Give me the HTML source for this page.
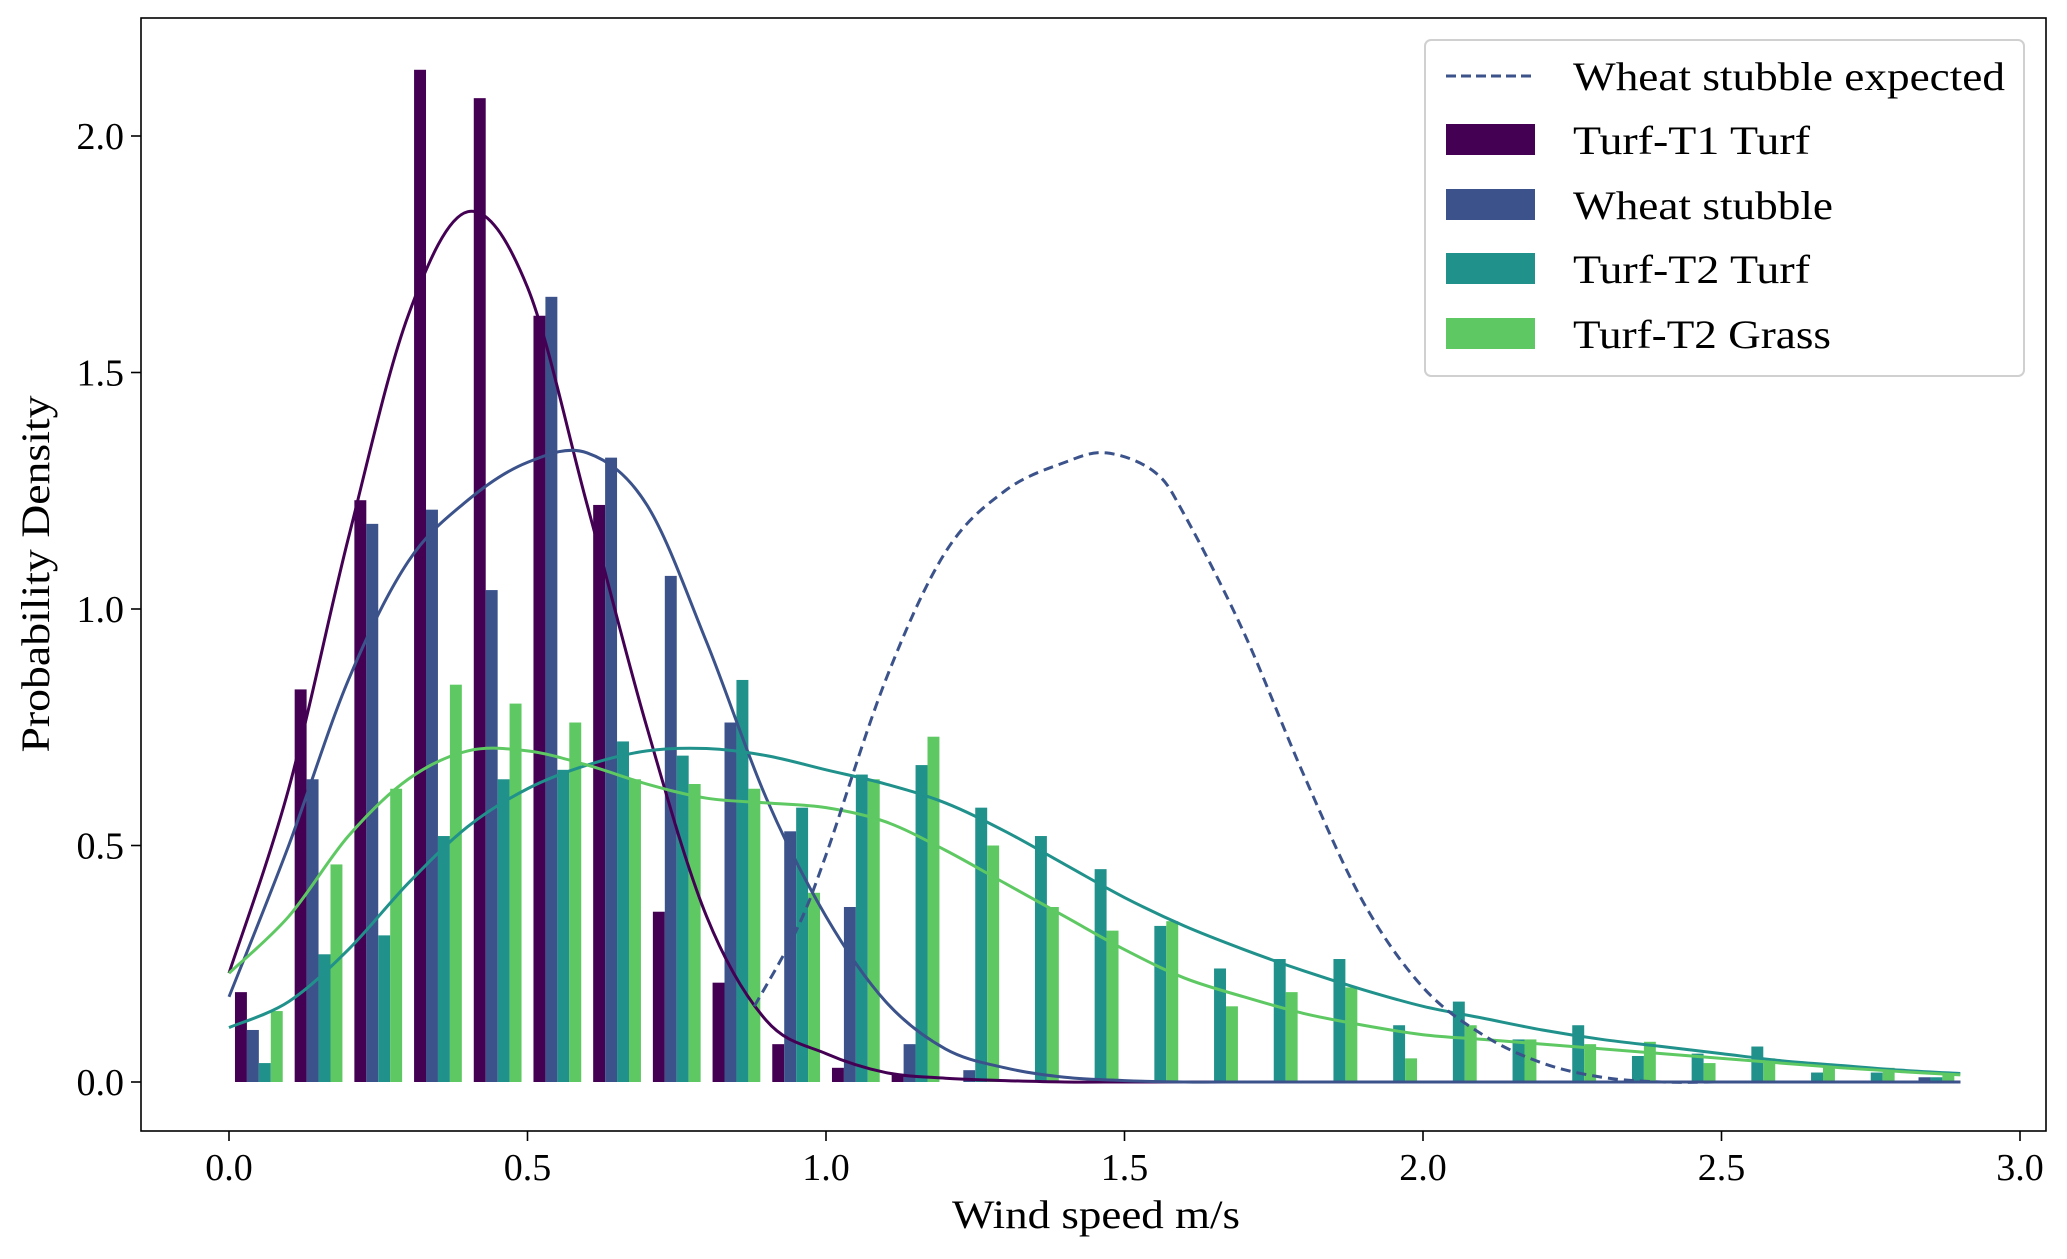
<!DOCTYPE html>
<html><head><meta charset="utf-8"><style>
html,body{margin:0;padding:0;background:#fff}
svg{display:block}
text{font-family:"Liberation Serif","DejaVu Serif",serif;fill:#000}
</style></head><body>
<svg id="chart" width="2067" height="1259" viewBox="0 0 2067 1259" xmlns="http://www.w3.org/2000/svg">
<rect x="0" y="0" width="2067" height="1259" fill="#fff"/>
<g id="bars"></g>
<g id="curves"></g>
<rect x="141" y="18" width="1905" height="1113" fill="none" stroke="#000" stroke-width="1.6"/>
<g id="xticks"></g>
<g id="yticks"></g>
<text x="1096" y="1228" font-size="40" text-anchor="middle" textLength="288" lengthAdjust="spacingAndGlyphs">Wind speed m/s</text>
<text transform="translate(49,574) rotate(-90)" font-size="40" text-anchor="middle" textLength="357" lengthAdjust="spacingAndGlyphs">Probability Density</text>
<g>
<rect x="1425" y="40" width="599" height="336" rx="6" fill="#fff" fill-opacity="0.85" stroke="#d0d0d0" stroke-width="2"/>
<line x1="1446" y1="76" x2="1535" y2="76" stroke="#3b528b" stroke-width="3" stroke-dasharray="10,5"/>
<text x="1573" y="90" font-size="40" textLength="432" lengthAdjust="spacingAndGlyphs">Wheat stubble expected</text>
<rect x="1446" y="124" width="89" height="31" fill="#440154"/>
<text x="1573" y="154" font-size="40" textLength="237" lengthAdjust="spacingAndGlyphs">Turf-T1 Turf</text>
<rect x="1446" y="189" width="89" height="31" fill="#3b528b"/>
<text x="1573" y="219" font-size="40" textLength="260" lengthAdjust="spacingAndGlyphs">Wheat stubble</text>
<rect x="1446" y="253" width="89" height="31" fill="#21918c"/>
<text x="1573" y="283" font-size="40" textLength="237" lengthAdjust="spacingAndGlyphs">Turf-T2 Turf</text>
<rect x="1446" y="318" width="89" height="31" fill="#5ec962"/>
<text x="1573" y="348" font-size="40" textLength="258" lengthAdjust="spacingAndGlyphs">Turf-T2 Grass</text>
</g>
</svg>
<script>
const binStarts = [0,0.1,0.2,0.3,0.4,0.5,0.6,0.7,0.8,0.9,1.0,1.1,1.2,1.3,1.4,1.5,1.6,1.7,1.8,1.9,2.0,2.1,2.2,2.3,2.4,2.5,2.6,2.7,2.8];
const t1Turf = [0.19,0.83,1.23,2.14,2.08,1.62,1.22,0.36,0.21,0.08,0.03,0.015,0,0,0,0,0,0,0,0,0,0,0,0,0,0,0,0,0];
const wheatStubble = [0.11,0.64,1.18,1.21,1.04,1.66,1.32,1.07,0.76,0.53,0.37,0.08,0.025,0,0,0,0,0,0,0,0,0,0,0,0,0,0,0,0.01];
const t2Turf = [0.04,0.27,0.31,0.52,0.64,0.66,0.72,0.69,0.85,0.58,0.65,0.67,0.58,0.52,0.45,0.33,0.24,0.26,0.26,0.12,0.17,0.09,0.12,0.055,0.06,0.075,0.02,0.02,0.01];
const t2Grass = [0.15,0.46,0.62,0.84,0.80,0.76,0.64,0.63,0.62,0.40,0.64,0.73,0.50,0.37,0.32,0.34,0.16,0.19,0.20,0.05,0.12,0.09,0.08,0.085,0.04,0.05,0.035,0.03,0.02];

const kdeX = [0,0.1,0.2,0.3,0.4,0.5,0.6,0.7,0.8,0.9,1.0,1.1,1.2,1.3,1.4,1.5,1.6,1.7,1.8,1.9,2.0,2.1,2.2,2.3,2.4,2.5,2.6,2.7,2.8,2.9];
const kdeT1 = [0.23,0.62,1.15,1.62,1.84,1.68,1.22,0.75,0.35,0.13,0.06,0.02,0.008,0.003,0,0,0,0,0,0,0,0,0,0,0,0,0,0,0,0];
const kdeWheat = [0.18,0.5,0.85,1.1,1.23,1.31,1.33,1.22,0.93,0.6,0.35,0.17,0.07,0.03,0.01,0.003,0,0,0,0,0,0,0,0,0,0,0,0,0,0];
const kdeT2Turf = [0.115,0.17,0.28,0.42,0.54,0.62,0.67,0.70,0.705,0.69,0.66,0.63,0.59,0.53,0.46,0.39,0.33,0.28,0.235,0.195,0.16,0.135,0.11,0.09,0.075,0.06,0.045,0.035,0.025,0.018];
const kdeT2Grass = [0.23,0.35,0.52,0.64,0.70,0.70,0.67,0.63,0.60,0.59,0.58,0.55,0.49,0.42,0.35,0.28,0.22,0.18,0.145,0.12,0.10,0.09,0.08,0.07,0.06,0.05,0.04,0.03,0.022,0.015];
const expX = [0.88,0.95,1.0,1.1,1.2,1.3,1.4,1.47,1.55,1.6,1.7,1.8,1.9,2.0,2.1,2.2,2.3,2.4,2.5,2.6,2.7,2.8,2.9];
const expY = [0.16,0.32,0.48,0.85,1.12,1.25,1.31,1.33,1.29,1.2,0.95,0.65,0.38,0.2,0.1,0.04,0.01,0,0,0,0,0,0];

const xTicks = [0,0.5,1.0,1.5,2.0,2.5,3.0];
const xTickLabels = ["0.0","0.5","1.0","1.5","2.0","2.5","3.0"];
const yTicks = [0,0.5,1.0,1.5,2.0];
const yTickLabels = ["0.0","0.5","1.0","1.5","2.0"];

const NS = "http://www.w3.org/2000/svg";
function sx(v){ return 229 + v*597; }
function sy(v){ return 1082 - v*473; }

const barsG = document.getElementById('bars');
const series = [t1Turf, wheatStubble, t2Turf, t2Grass];
const colors = ["#440154","#3b528b","#21918c","#5ec962"];
const seriesNames = ["t1-turf","wheat-stubble","t2-turf","t2-grass"];
for (let s=0; s<series.length; s++){
  for (let i=0; i<binStarts.length; i++){
    const v = series[s][i];
    if (v<=0) continue;
    const x0 = binStarts[i] + 0.01 + s*0.02;
    const r = document.createElementNS(NS,'rect');
    r.setAttribute('x', sx(x0));
    r.setAttribute('width', sx(x0+0.02)-sx(x0));
    r.setAttribute('y', sy(v));
    r.setAttribute('height', sy(0)-sy(v));
    r.setAttribute('fill', colors[s]);
    
    
    barsG.appendChild(r);
  }
}

function smoothPath(xs, ys){
  const p = xs.map((x,i)=>[sx(x), sy(ys[i])]);
  let d = "M"+p[0][0]+","+p[0][1];
  for (let i=0;i<p.length-1;i++){
    const p0=p[Math.max(0,i-1)], p1=p[i], p2=p[i+1], p3=p[Math.min(p.length-1,i+2)];
    const c1=[p1[0]+(p2[0]-p0[0])/6, p1[1]+(p2[1]-p0[1])/6];
    const c2=[p2[0]-(p3[0]-p1[0])/6, p2[1]-(p3[1]-p1[1])/6];
    d += " C"+c1[0]+","+c1[1]+" "+c2[0]+","+c2[1]+" "+p2[0]+","+p2[1];
  }
  return d;
}
const curvesG = document.getElementById('curves');
const curveDefs = [
  [kdeX,kdeT1,"#440154",null,"kde-t1-turf"],
  [kdeX,kdeWheat,"#3b528b",null,"kde-wheat-stubble"],
  [kdeX,kdeT2Turf,"#21918c",null,"kde-t2-turf"],
  [kdeX,kdeT2Grass,"#5ec962",null,"kde-t2-grass"],
  [expX,expY,"#3b528b","10,6","wheat-stubble-expected-line"]
];
for (const c of curveDefs){
  const path = document.createElementNS(NS,'path');
  path.setAttribute('d', smoothPath(c[0], c[1]));
  path.setAttribute('fill','none');
  path.setAttribute('stroke', c[2]);
  path.setAttribute('stroke-width','3');
  if (c[3]) path.setAttribute('stroke-dasharray', c[3]);
  
  
  curvesG.appendChild(path);
}

const xg = document.getElementById('xticks');
xTicks.forEach((v,i)=>{
  const l = document.createElementNS(NS,'line');
  l.setAttribute('x1',sx(v)); l.setAttribute('x2',sx(v));
  l.setAttribute('y1',1131); l.setAttribute('y2',1141);
  l.setAttribute('stroke','#000'); l.setAttribute('stroke-width','1.6');
  
  
  xg.appendChild(l);
  const t = document.createElementNS(NS,'text');
  t.setAttribute('x',sx(v)); t.setAttribute('y',1180);
  t.setAttribute('font-size','38'); t.setAttribute('text-anchor','middle');
  t.textContent = xTickLabels[i];
  
  
  xg.appendChild(t);
});
const yg = document.getElementById('yticks');
yTicks.forEach((v,i)=>{
  const l = document.createElementNS(NS,'line');
  l.setAttribute('x1',131); l.setAttribute('x2',141);
  l.setAttribute('y1',sy(v)); l.setAttribute('y2',sy(v));
  l.setAttribute('stroke','#000'); l.setAttribute('stroke-width','1.6');
  
  
  yg.appendChild(l);
  const t = document.createElementNS(NS,'text');
  t.setAttribute('x',124); t.setAttribute('y',sy(v)+13);
  t.setAttribute('font-size','38'); t.setAttribute('text-anchor','end');
  t.textContent = yTickLabels[i];
  
  
  yg.appendChild(t);
});
</script>
</body></html>
